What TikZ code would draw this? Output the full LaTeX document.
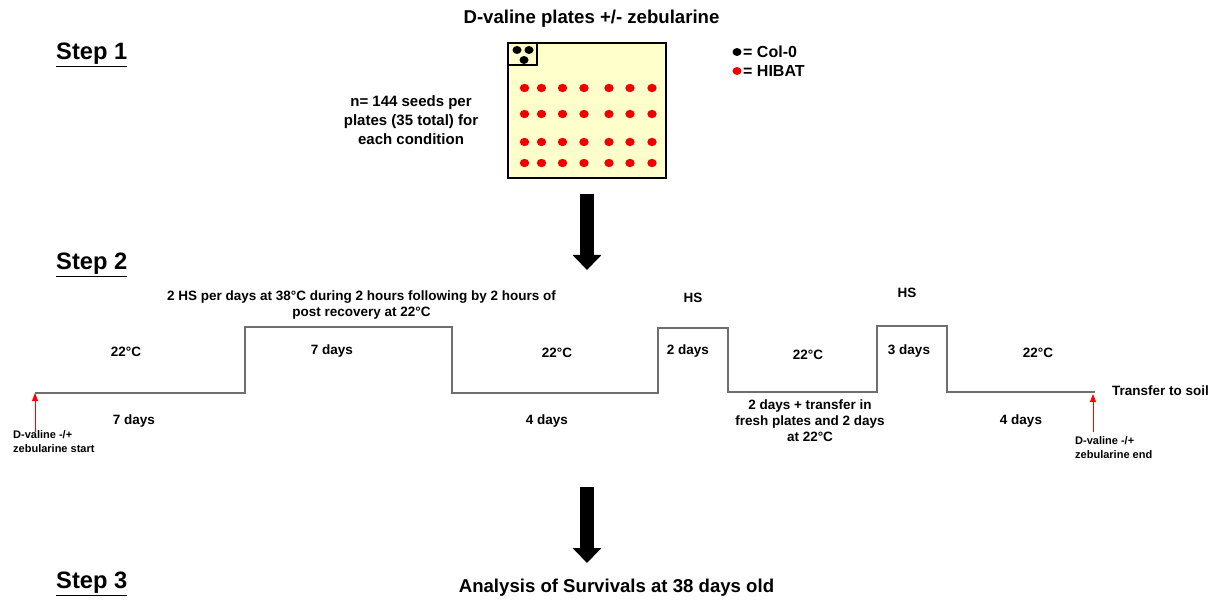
\documentclass[tikz,border=0pt]{standalone}
\usepackage{fontspec}
\setmainfont{Liberation Sans}
\usetikzlibrary{arrows.meta}
\definecolor{plate}{RGB}{255,255,204}
\definecolor{seedred}{RGB}{240,0,0}
\definecolor{tline}{RGB}{110,110,110}
\tikzset{
  steplbl/.style={font=\bfseries\fontsize{23.7}{28}\selectfont, anchor=west, inner sep=0pt},
  tl/.style={font=\bfseries\fontsize{13.5}{16}\selectfont, align=center, inner sep=0pt},
  big/.style={font=\bfseries\fontsize{18.6}{22}\selectfont, align=center, inner sep=0pt},
  note/.style={font=\bfseries\fontsize{15}{19}\selectfont, align=center, inner sep=0pt},
  legendtxt/.style={font=\bfseries\fontsize{16}{19}\selectfont, anchor=west, inner sep=0pt},
  small/.style={font=\bfseries\fontsize{11}{14}\selectfont, align=left, anchor=north west, inner sep=0pt},
  bigarrow/.style={line width=14pt, -{Triangle[width=28pt,length=15pt]}},
  redarrow/.style={red, line width=0.8pt, -{Triangle[width=6pt,length=8pt]}},
  timeline/.style={tline, line width=1.3pt},
  seed/.style={fill=seedred, draw=none},
  blackseed/.style={fill=black, draw=none}
}
\begin{document}
\begin{tikzpicture}[x=1pt,y=-1pt]
\useasboundingbox (0,0) rectangle (1216,604);

% step headings
\node[steplbl] (s1) at (56,55) {\underline{Step 1}};
\node[steplbl] (s2) at (56,265) {\underline{Step 2}};
\node[steplbl] (s3) at (56,584) {\underline{Step 3}};

% plate with seeds
\node[big] (title) at (591.5,19) {D-valine plates +/- zebularine};
\draw[fill=plate, line width=1.3pt] (508,43) rectangle (666,178);
\draw[line width=1.3pt] (508,43) rectangle (537,65);
\foreach \p in {(517,50),(529,50),(524,60)}
  \fill[blackseed] \p ellipse (4.5 and 4);
\foreach \y in {88,114,142,163}
  \foreach \x in {524.5,541.5,562.5,584,609,630,652}
    \fill[seed] (\x,\y) ellipse (4.7 and 4.2);
\node[note] (n) at (411,120) {n= 144 seeds per\\plates (35 total) for\\each condition};

% legend
\fill[blackseed] (737,52) ellipse (4.5 and 4);
\node[legendtxt] (lg1) at (743,52) {= Col-0};
\fill[seed] (737,71) ellipse (4.5 and 4);
\node[legendtxt] (lg2) at (743,71) {= HIBAT};

% arrows between steps
\coordinate (a1) at (587,194);
\coordinate (b1) at (587,270);
\draw[bigarrow] (a1) -- (b1);
\coordinate (a2) at (587,487);
\coordinate (b2) at (587,563);
\draw[bigarrow] (a2) -- (b2);

% temperature timeline
\coordinate (t0) at (35,393);
\coordinate (t1) at (245,393);
\coordinate (t2) at (245,327);
\coordinate (t3) at (452,327);
\coordinate (t4) at (452,393);
\coordinate (t5) at (658,393);
\coordinate (t6) at (658,328);
\coordinate (t7) at (728,328);
\coordinate (t8) at (728,392);
\coordinate (t9) at (877,392);
\coordinate (t10) at (877,326);
\coordinate (t11) at (947,326);
\coordinate (t12) at (947,392);
\coordinate (t13) at (1095,392);
\draw[timeline] (t0) -- (t1) -- (t2) -- (t3) -- (t4) -- (t5) -- (t6) -- (t7) -- (t8) -- (t9) -- (t10) -- (t11) -- (t12) -- (t13);

% timeline labels
\node[tl] (c1) at (126,352) {22°C};
\node[tl] (d1) at (134,421) {7 days};
\node[tl] (hs1) at (361.5,305) {2 HS per days at 38°C during 2 hours following by 2 hours of\\post recovery at 22°C};
\node[tl] (d2) at (332,351) {7 days};
\node[tl] (c2) at (557,353) {22°C};
\node[tl] (d3) at (547,421) {4 days};
\node[tl] (hs2) at (693,298) {HS};
\node[tl] (d4) at (688,351) {2 days};
\node[tl] (c3) at (808,355) {22°C};
\node[tl] (d5) at (810,421) {2 days + transfer in\\fresh plates and 2 days\\at 22°C};
\node[tl] (hs3) at (907,293) {HS};
\node[tl] (d6) at (909,351) {3 days};
\node[tl] (c4) at (1038,353) {22°C};
\node[tl] (d7) at (1021,421) {4 days};
\node[tl, anchor=west] (soil) at (1112,391) {Transfer to soil};

% D-valine start / end markers
\coordinate (r0) at (35,432);
\draw[redarrow] (r0) -- (t0);
\node[small] (st) at (13,430) {D-valine -/+\\zebularine start};
\coordinate (r1) at (1093,432);
\coordinate (r1t) at (1093,394);
\draw[redarrow] (r1) -- (r1t);
\node[small] (en) at (1075,436) {D-valine -/+\\zebularine end};

% outcome
\node[big] (res) at (616.5,588) {Analysis of Survivals at 38 days old};
\end{tikzpicture}
\end{document}
